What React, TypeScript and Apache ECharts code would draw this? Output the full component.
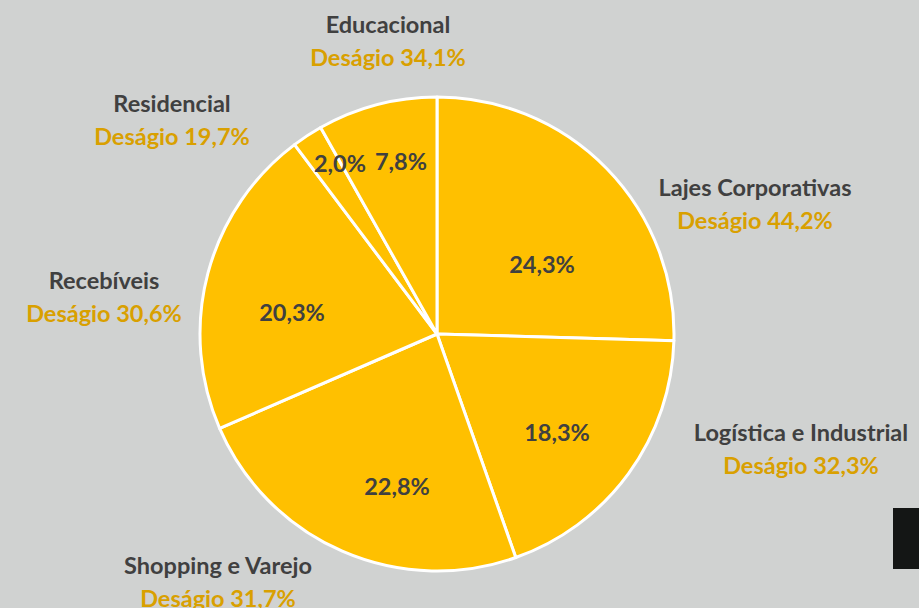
import React, { useEffect, useRef } from "react";
import * as echarts from "echarts";

const categories = [
  "Lajes Corporativas",
  "Logística e Industrial",
  "Shopping e Varejo",
  "Recebíveis",
  "Residencial",
  "Educacional",
];
const shares = [24.3, 18.3, 22.8, 20.3, 2.0, 7.8];
const desagio = ["44,2%", "32,3%", "31,7%", "30,6%", "19,7%", "34,1%"];

// label placement (style only)
const outerPos = [
  [755, 203],
  [801, 448],
  [218, 581],
  [104, 296],
  [172, 119],
  [388, 40],
];
const innerPos = [
  [542, 264],
  [557, 432],
  [397, 486],
  [292, 312],
  [340, 163],
  [401, 161],
];

const fmt = (v: number) => v.toFixed(1).replace(".", ",") + "%";
const FONT = "Lato";
const FS = 23.5;

export default function App() {
  const ref = useRef<HTMLDivElement>(null);
  useEffect(() => {
    if (!ref.current) return;
    const chart = echarts.init(ref.current, undefined, { renderer: "svg" });
    const data = categories.map((c, i) => ({ name: c, value: shares[i] }));
    chart.setOption({
      animation: false,
      backgroundColor: "#d0d2d1",
      graphic: [
        {
          type: "rect",
          shape: { x: 893, y: 508, width: 26, height: 61 },
          style: { fill: "#141615" },
        },
      ],
      series: [
        {
          type: "pie",
          center: [437, 334],
          radius: 237,
          startAngle: 90,
          clockwise: true,
          data,
          itemStyle: { color: "#ffc000", borderColor: "#ffffff", borderWidth: 3 },
          labelLine: { show: false },
          label: {
            show: true,
            position: "inside",
            formatter: (p: any) => fmt(shares[p.dataIndex]),
            color: "#404040",
            fontFamily: FONT,
            fontWeight: "bold",
            fontSize: FS,
          },
          labelLayout: (p: any) => ({
            x: innerPos[p.dataIndex][0],
            y: innerPos[p.dataIndex][1],
            align: "center",
            verticalAlign: "middle",
          }),
          emphasis: { disabled: true },
          silent: true,
        },
        {
          type: "pie",
          center: [437, 334],
          radius: 237,
          startAngle: 90,
          clockwise: true,
          data,
          itemStyle: { color: "rgba(0,0,0,0)", borderWidth: 0 },
          labelLine: { show: false },
          label: {
            show: true,
            position: "outside",
            overflow: "none",
            formatter: (p: any) => `{n|${p.name}}\n{d|Deságio ${desagio[p.dataIndex]}}`,
            rich: {
              n: {
                color: "#404040",
                fontFamily: FONT,
                fontWeight: "bold",
                fontSize: FS,
                lineHeight: 33,
                align: "center",
              },
              d: {
                color: "#d9a000",
                fontFamily: FONT,
                fontWeight: "bold",
                fontSize: FS,
                lineHeight: 33,
                align: "center",
              },
            },
          },
          labelLayout: (p: any) => ({
            x: outerPos[p.dataIndex][0],
            y: outerPos[p.dataIndex][1],
            align: "center",
            verticalAlign: "middle",
          }),
          emphasis: { disabled: true },
          silent: true,
        },
      ],
    });
    return () => chart.dispose();
  }, []);
  return (
    <div
      ref={ref}
      style={{ position: "fixed", left: 0, top: 0, width: 919, height: 608 }}
    />
  );
}
